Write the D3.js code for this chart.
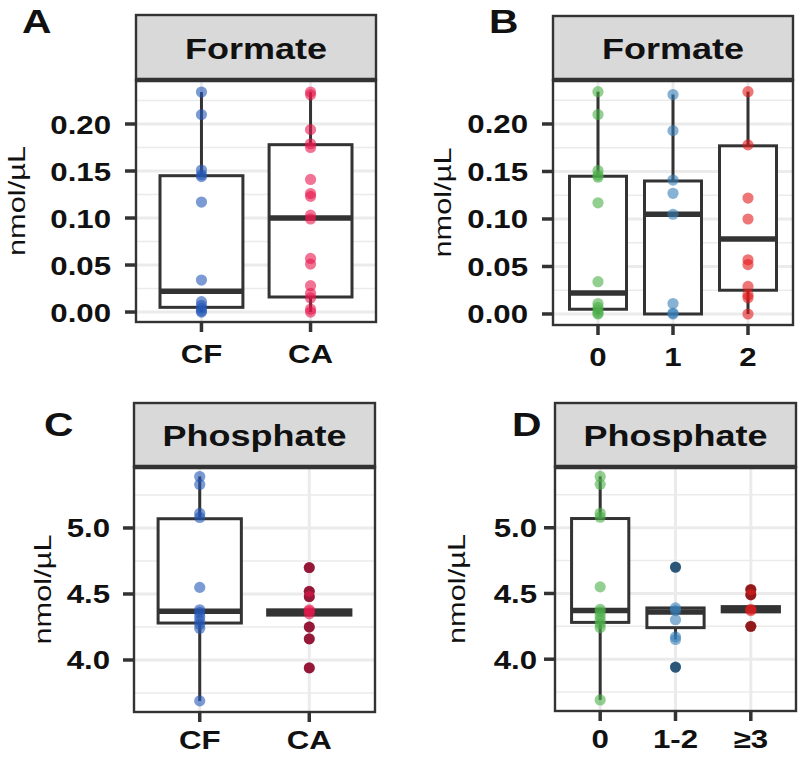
<!DOCTYPE html>
<html><head><meta charset="utf-8">
<script src="https://cdn.jsdelivr.net/npm/d3@7"></script>
<style>body{margin:0;background:#fff}svg{display:block}</style>
</head><body><svg id="c" width="800" height="757"></svg>
<script>
// ---------------- data ----------------
const groupsCFCA = ["CF", "CA"];
const groupsB = ["0", "1", "2"];
const groupsD = ["0", "1-2", "≥3"];
const formateTicks = [0.00, 0.05, 0.10, 0.15, 0.20];
const phosphateTicks = [4.0, 4.5, 5.0];

const formateCF = [0.234, 0.210, 0.151, 0.146, 0.144, 0.117, 0.034, 0.011, 0.007, 0.004, 0.001, 0.0];
const formateCA = [0.234, 0.231, 0.194, 0.179, 0.175, 0.141, 0.126, 0.123, 0.103, 0.099, 0.057, 0.051, 0.028, 0.020, 0.015, 0.003, 0.0];
const formate1 = [0.231, 0.193, 0.141, 0.127, 0.105, 0.011, 0.001, 0.0];
const formate2 = [0.234, 0.178, 0.122, 0.100, 0.057, 0.052, 0.029, 0.020, 0.017, 0.0];
const phosCF = [5.39, 5.33, 5.11, 5.08, 4.55, 4.38, 4.36, 4.33, 4.30, 4.27, 4.24, 3.69];
const phosCA = [4.70, 4.52, 4.48, 4.38, 4.37, 4.35, 4.25, 4.16, 3.94];
const phos12 = [4.70, 4.39, 4.37, 4.30, 4.17, 4.15, 3.94];
const phos3 = [4.53, 4.49, 4.38, 4.37, 4.25];

// box stats: [lower whisker, q1, median, q3, upper whisker]
const boxFormateCF = [0.000, 0.005, 0.022, 0.145, 0.234];
const boxFormateCA = [0.000, 0.016, 0.100, 0.178, 0.234];
const boxFormate1 = [0.000, 0.000, 0.105, 0.140, 0.231];
const boxFormate2 = [0.000, 0.025, 0.079, 0.177, 0.234];
const boxPhosCF = [3.69, 4.28, 4.37, 5.07, 5.39];
const boxPhosCA = [4.34, 4.34, 4.36, 4.38, 4.38];
const boxPhos12 = [4.15, 4.24, 4.36, 4.39, 4.39];
const boxPhos3 = [4.36, 4.36, 4.38, 4.40, 4.40];

const colorsCFCA = ["#2557B5", "#E8184D"];
const colorsSet1 = ["#4DAF4A", "#377EB8", "#E41A1C"];

// ---------------- drawing ----------------
const svg = d3.select("#c");
const SX = 1.2;           // horizontal stretch of the source image text
const DARK = "#333333";
const GRID = "#EBEBEB";

function stext(g, x, y, str, size, weight, anchor) {
  return g.append("text")
    .attr("transform", `translate(${x},${y}) scale(${SX},1)`)
    .attr("text-anchor", anchor)
    .attr("font-family", "'Liberation Sans', Arial, sans-serif")
    .attr("font-size", size)
    .attr("font-weight", weight)
    .attr("fill", "#111")
    .text(str);
}

function panel(p) {
  const g = svg.append("g");
  const x = d3.scalePoint().domain(p.cats).range([p.left, p.right]).padding(0.6);
  const y = d3.scaleLinear().domain(p.domain).range([p.plotBot, p.stripBot]);
  const step = x.step();
  const bw = step * 0.76;

  g.append("rect").attr("x", p.left).attr("y", p.stripBot).attr("width", p.right - p.left)
    .attr("height", p.plotBot - p.stripBot).attr("fill", "#fff");

  const tstep = p.ticks[1] - p.ticks[0];
  const minors = d3.range(p.ticks[0] - tstep / 2, p.domain[1], tstep)
    .filter(v => v > p.domain[0] && v < p.domain[1]);
  g.selectAll(".mg").data(minors).enter().append("line")
    .attr("x1", p.left).attr("x2", p.right)
    .attr("y1", d => y(d)).attr("y2", d => y(d))
    .attr("stroke", GRID).attr("stroke-width", 1.5);
  g.selectAll(".Mg").data(p.ticks).enter().append("line")
    .attr("x1", p.left).attr("x2", p.right)
    .attr("y1", d => y(d)).attr("y2", d => y(d))
    .attr("stroke", GRID).attr("stroke-width", 3);
  g.selectAll(".Vg").data(p.cats).enter().append("line")
    .attr("x1", d => x(d)).attr("x2", d => x(d))
    .attr("y1", p.stripBot).attr("y2", p.plotBot)
    .attr("stroke", GRID).attr("stroke-width", 3);

  p.cats.forEach((c, i) => {
    const b = p.boxes[i];
    const cx = x(c);
    g.append("line").attr("x1", cx).attr("x2", cx).attr("y1", y(b[3])).attr("y2", y(b[4]))
      .attr("stroke", DARK).attr("stroke-width", 3);
    g.append("line").attr("x1", cx).attr("x2", cx).attr("y1", y(b[0])).attr("y2", y(b[1]))
      .attr("stroke", DARK).attr("stroke-width", 3);
    g.append("rect").attr("x", cx - bw / 2).attr("width", bw)
      .attr("y", y(b[3])).attr("height", Math.max(0.1, y(b[1]) - y(b[3])))
      .attr("fill", "#fff").attr("stroke", DARK).attr("stroke-width", 3);
    g.append("line").attr("x1", cx - bw / 2).attr("x2", cx + bw / 2)
      .attr("y1", y(b[2])).attr("y2", y(b[2]))
      .attr("stroke", DARK).attr("stroke-width", 5.5);
  });

  p.cats.forEach((c, i) => {
    const b = p.boxes[i];
    const out = p.series[i].filter(v => v < b[0] - 1e-9 || v > b[4] + 1e-9);
    g.selectAll(null).data(out).enter().append("circle")
      .attr("cx", x(c)).attr("cy", d => y(d)).attr("r", 5.4).attr("fill", "#1a1a1a");
  });
  p.cats.forEach((c, i) => {
    g.selectAll(null).data(p.series[i]).enter().append("circle")
      .attr("cx", x(c)).attr("cy", d => y(d)).attr("r", 5.6)
      .attr("fill", p.colors[i]).attr("fill-opacity", 0.6);
  });

  g.append("rect").attr("x", p.left).attr("y", p.stripBot).attr("width", p.right - p.left)
    .attr("height", p.plotBot - p.stripBot).attr("fill", "none")
    .attr("stroke", DARK).attr("stroke-width", 2.4);

  g.append("rect").attr("x", p.left).attr("y", p.stripTop).attr("width", p.right - p.left)
    .attr("height", p.stripBot - p.stripTop).attr("fill", "#D9D9D9")
    .attr("stroke", DARK).attr("stroke-width", 2.4);
  g.append("line").attr("x1", p.left - 1).attr("x2", p.right + 1)
    .attr("y1", p.stripBot).attr("y2", p.stripBot)
    .attr("stroke", DARK).attr("stroke-width", 4.5);
  stext(g, (p.left + p.right) / 2, (p.stripTop + p.stripBot) / 2 + 11, p.strip, 30, "bold", "middle");

  p.ticks.forEach(t => {
    g.append("line").attr("x1", p.left - 11).attr("x2", p.left)
      .attr("y1", y(t)).attr("y2", y(t)).attr("stroke", DARK).attr("stroke-width", 3.5);
    stext(g, p.left - p.labGap, y(t) + 9.5, p.fmt(t), 26, "bold", "end");
  });
  p.cats.forEach(c => {
    g.append("line").attr("x1", x(c)).attr("x2", x(c))
      .attr("y1", p.plotBot).attr("y2", p.plotBot + 10).attr("stroke", DARK).attr("stroke-width", 3.5);
    stext(g, x(c), p.plotBot + p.xLabOff, c, 26, "bold", "middle");
  });
  g.append("text")
    .attr("transform", `translate(${p.titleX},${(p.stripBot + p.plotBot) / 2}) rotate(-90)`)
    .attr("text-anchor", "middle")
    .attr("font-family", "'Liberation Sans', Arial, sans-serif")
    .attr("font-size", 24)
    .attr("textLength", 110).attr("lengthAdjust", "spacingAndGlyphs")
    .attr("fill", "#111")
    .text("nmol/µL");
  stext(g, p.letterX, p.letterY, p.letter, 34, "bold", "start");
}

const fmt2 = d3.format(".2f");
const fmt1 = d3.format(".1f");

panel({ left: 136, right: 376, stripTop: 15, stripBot: 80, plotBot: 322,
  domain: [-0.0106, 0.2468], ticks: formateTicks, fmt: fmt2, labGap: 25, xLabOff: 41,
  cats: groupsCFCA, series: [formateCF, formateCA],
  boxes: [boxFormateCF, boxFormateCA], colors: colorsCFCA,
  strip: "Formate", letter: "A", letterX: 22, letterY: 33, titleX: 25 });

panel({ left: 553, right: 793, stripTop: 16, stripBot: 80, plotBot: 325,
  domain: [-0.0116, 0.2463], ticks: formateTicks, fmt: fmt2, labGap: 25, xLabOff: 41,
  cats: groupsB, series: [formateCF, formate1, formate2],
  boxes: [boxFormateCF, boxFormate1, boxFormate2], colors: colorsSet1,
  strip: "Formate", letter: "B", letterX: 489, letterY: 33, titleX: 451 });

panel({ left: 134, right: 375, stripTop: 403, stripBot: 467, plotBot: 712,
  domain: [3.606, 5.462], ticks: phosphateTicks, fmt: fmt1, labGap: 24, xLabOff: 37,
  cats: groupsCFCA, series: [phosCF, phosCA],
  boxes: [boxPhosCF, boxPhosCA], colors: colorsCFCA,
  strip: "Phosphate", letter: "C", letterX: 44, letterY: 436, titleX: 51 });

panel({ left: 555, right: 796, stripTop: 403, stripBot: 467, plotBot: 711,
  domain: [3.606, 5.462], ticks: phosphateTicks, fmt: fmt1, labGap: 18, xLabOff: 37,
  cats: groupsD, series: [phosCF, phos12, phos3],
  boxes: [boxPhosCF, boxPhos12, boxPhos3], colors: colorsSet1,
  strip: "Phosphate", letter: "D", letterX: 512, letterY: 436, titleX: 465 });
</script>
</body></html>
